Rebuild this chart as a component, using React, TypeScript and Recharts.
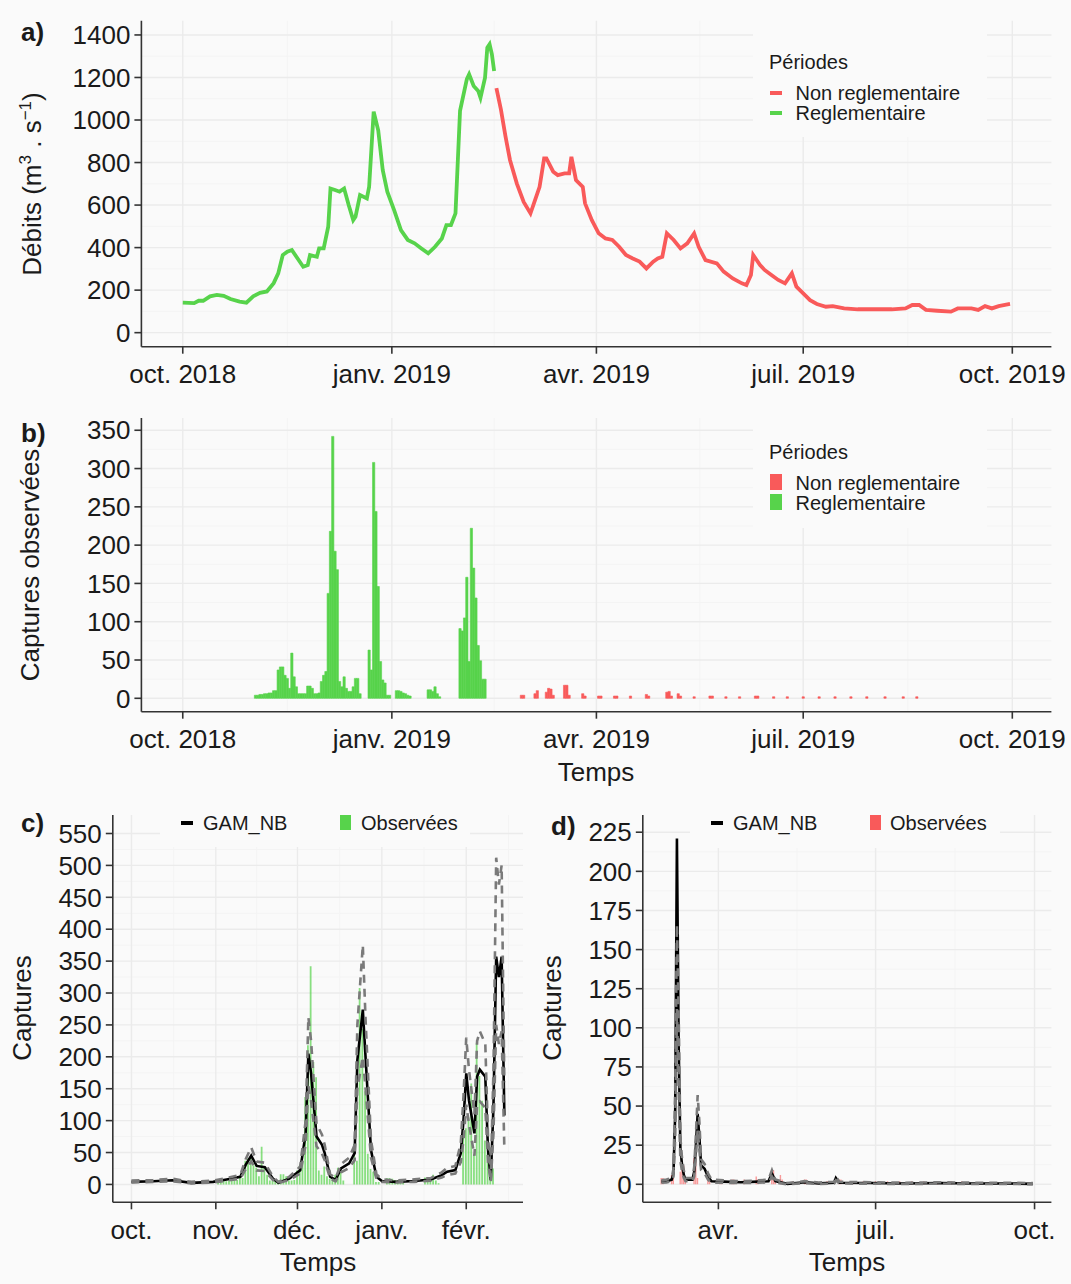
import React from 'react'
import { Bar, CartesianGrid, Cell, ComposedChart, Line, XAxis, YAxis } from 'recharts'

const GREEN = '#57d34b'
const RED = '#f95a5a'
const BG = '#fafafa'
const GRID = '#ebebeb'
const GRID_MINOR = '#f4f4f4'
const AXIS = '#333333'
const INK = '#1a1a1a'
const FONT = '"Liberation Sans", Arial, sans-serif'

// x = jours depuis le 1er oct. 2018
const yearTicks = [0, 92, 182, 273, 365]
const yearLabels = ['oct. 2018', 'janv. 2019', 'avr. 2019', 'juil. 2019', 'oct. 2019']
const winterTicks = [0, 31, 61, 92, 123]
const winterLabels = ['oct.', 'nov.', 'déc.', 'janv.', 'févr.']
const summerTicks = [182, 273, 365]
const summerLabels = ['avr.', 'juil.', 'oct.']

// débits journaliers (jour, m3/s)
const flowReg: [number, number][] = [
  [0, 141], [5, 139], [7, 150], [9, 150], [12, 171], [15, 178], [18, 173], [21, 158], [25, 146],
  [28, 141], [31, 171], [34, 187], [37, 194], [40, 233], [42, 279], [44, 365], [46, 381], [48, 389],
  [50, 357], [53, 310], [55, 318], [56, 365], [59, 357], [60, 396], [62, 396], [64, 498], [65, 678],
  [67, 671], [69, 663], [71, 678], [73, 600], [75, 529], [76, 545], [78, 647], [81, 631], [82, 686],
  [84, 1039], [86, 952], [88, 764], [90, 663], [93, 576], [96, 482], [99, 436], [102, 420], [105, 396],
  [108, 373], [111, 404], [114, 443], [116, 506], [118, 506], [120, 561], [122, 1043], [125, 1192],
  [126, 1215], [128, 1160], [130, 1137], [131, 1105], [133, 1199], [134, 1340], [135, 1356],
  [136, 1310], [137, 1231]
]
const flowNonReg: [number, number][] = [
  [138, 1150], [140, 1049], [142, 923], [144, 811], [147, 701], [150, 615], [153, 561], [155, 623],
  [157, 686], [159, 819], [160, 819], [163, 757], [165, 741], [168, 749], [170, 749], [171, 827],
  [173, 718], [176, 686], [177, 608], [180, 529], [183, 467], [186, 443], [189, 436], [192, 404],
  [195, 365], [198, 349], [201, 334], [204, 302], [207, 334], [209, 349], [211, 357], [213, 467],
  [216, 436], [219, 396], [222, 420], [225, 467], [227, 404], [230, 341], [235, 326], [238, 287],
  [242, 255], [246, 232], [248, 224], [250, 271], [251, 365], [254, 318], [256, 295], [259, 271],
  [262, 248], [265, 232], [268, 279], [270, 216], [273, 185], [276, 153], [279, 135], [283, 122],
  [286, 125], [291, 114], [297, 110], [304, 110], [312, 110], [318, 114], [321, 130], [324, 130],
  [327, 107], [332, 103], [338, 99], [341, 114], [347, 114], [350, 107], [353, 125], [356, 114],
  [359, 125], [364, 135]
]

// captures observées (jour, effectif)
const obsReg: [number, number][] = [
  [32, 4], [33, 4], [34, 5], [35, 5], [36, 6], [37, 6], [38, 7], [39, 7], [40, 10], [41, 10],
  [42, 37], [43, 41], [44, 41], [45, 30], [46, 26], [47, 13], [48, 59], [49, 28], [50, 15], [51, 6],
  [52, 6], [53, 6], [54, 6], [55, 16], [56, 16], [57, 13], [58, 6], [59, 6], [60, 7], [61, 22],
  [62, 30], [63, 35], [64, 137], [65, 218], [66, 342], [67, 192], [68, 168], [69, 22], [70, 15],
  [71, 28], [72, 13], [73, 9], [74, 9], [75, 15], [76, 26], [77, 26], [78, 6],
  [82, 63], [83, 37], [84, 308], [85, 244], [86, 146], [87, 48], [88, 24], [89, 20], [90, 4], [91, 4],
  [94, 10], [95, 10], [96, 9], [97, 7], [98, 6], [99, 4], [100, 3],
  [108, 11], [109, 11], [110, 9], [111, 15], [112, 6], [113, 2],
  [122, 91], [123, 88], [124, 105], [125, 158], [126, 48], [127, 222], [128, 170], [129, 131],
  [130, 69], [131, 49], [132, 25], [133, 25]
]
const obsNonReg: [number, number][] = [
  [149, 4], [150, 4], [155, 6], [156, 10], [160, 8], [161, 13], [162, 12], [163, 4], [168, 17],
  [169, 17], [170, 4], [176, 6], [177, 3], [183, 3], [184, 3], [190, 3], [191, 3], [197, 3], [204, 5],
  [205, 3], [213, 8], [214, 9], [215, 3], [218, 6], [219, 3], [225, 2], [232, 3], [233, 3], [239, 2],
  [245, 2], [252, 3], [253, 3], [260, 2], [266, 2], [273, 2], [280, 2], [287, 2], [294, 2], [301, 2],
  [309, 2], [317, 2], [323, 2]
]

// GAM_NB : (jour, prédiction, borne basse, borne haute)
const gamReg: [number, number, number, number][] = [
  [0, 4, 3, 6], [8, 5, 4, 7], [15, 6.6, 5, 9], [22, 2.5, 1.5, 4], [30, 4, 3, 6], [35, 7.8, 6, 10],
  [40, 12, 9, 15], [42, 31, 24, 40], [44, 45, 36, 58], [46, 29, 22, 36], [49, 27, 21, 34],
  [52, 9, 7, 12], [54, 2.6, 2, 4], [58, 9, 7, 12], [62, 22, 17, 28], [64, 80, 62, 100],
  [65, 205, 155, 262], [66, 174, 130, 225], [68, 75, 60, 95], [70, 62, 48, 78], [71, 49, 38, 62],
  [73, 12, 9, 16], [75, 7, 5, 10], [77, 25, 19, 32], [80, 33, 26, 42], [82, 49, 38, 62],
  [83, 195, 150, 250], [85, 274, 200, 375], [86, 200, 150, 260], [88, 54, 42, 70], [90, 12, 9, 16],
  [92, 5.5, 4, 8], [97, 4, 3, 6], [104, 5.5, 4, 8], [110, 7.8, 6, 10], [114, 14.6, 11, 19],
  [116, 20, 15, 26], [119, 22.5, 17, 29], [121, 49, 35, 65], [122, 101, 70, 140], [123, 174, 125, 230],
  [124, 132, 95, 180], [126, 80, 45, 110], [127, 169, 125, 225], [128, 180, 130, 240],
  [130, 169, 120, 220], [131, 54, 35, 75], [132, 7, 4, 12], [133, 122, 80, 180], [134, 357, 250, 512],
  [135, 325, 220, 470], [136, 357, 240, 500], [137, 108, 56, 160]
]
const gamNonReg: [number, number, number, number][] = [
  [149, 1.7, 1, 2.5], [152, 2, 1.2, 3], [155, 3, 2, 4], [156, 7, 5, 10], [157, 45, 30, 60],
  [158, 221, 112, 166], [159, 90, 60, 110], [160, 23, 15, 30], [161, 12, 8, 16], [162, 6, 4, 9],
  [163, 3, 2, 4], [167, 3, 2, 4], [168, 8, 5, 11], [169, 25, 18, 32], [170, 45, 35, 57],
  [171, 30, 22, 40], [172, 12, 9, 16], [174, 10, 7, 13], [176, 5, 3, 7], [178, 2, 1, 3],
  [185, 1.7, 1, 2.5], [195, 1.3, 0.8, 2], [205, 1.7, 1, 2.5], [211, 2, 1.2, 3], [213, 7, 5, 9],
  [215, 2, 1.2, 3], [222, 0.3, 0, 0.8], [232, 1.3, 0.8, 2], [240, 0.6, 0.2, 1.2], [249, 1, 0.5, 1.6],
  [250, 4, 2.5, 5], [252, 1, 0.5, 1.6], [270, 0.8, 0.4, 1.3], [290, 0.5, 0.2, 1], [310, 0.8, 0.4, 1.3],
  [330, 0.5, 0.2, 1], [350, 0.5, 0.2, 1], [364, 0.3, 0.1, 0.8]
]

const flowTicks = [0, 200, 400, 600, 800, 1000, 1200, 1400]
const capTicksB = [0, 50, 100, 150, 200, 250, 300, 350]
const capTicksC = [0, 50, 100, 150, 200, 250, 300, 350, 400, 450, 500, 550]
const capTicksD = [0, 25, 50, 75, 100, 125, 150, 175, 200, 225]

const mids = (t: number[]) => t.slice(1).map((v, i) => (v + t[i]) / 2)

const tickStyle = { fill: INK, fontSize: 26, fontFamily: FONT }
const axisLine = { stroke: AXIS, strokeWidth: 1.6 }
const labelOf = (ticks: number[], labels: string[]) => (v: number) => labels[ticks.indexOf(v)] ?? ''

const regLine = flowReg.map(([d, v]) => ({ d, v }))
const nonRegLine = flowNonReg.map(([d, v]) => ({ d, v }))
const obsAll = [
  ...obsReg.map(([d, n]) => ({ d, n, reg: true })),
  ...obsNonReg.map(([d, n]) => ({ d, n, reg: false }))
]
const obsRegRows = obsReg.map(([d, n]) => ({ d, n }))
const obsNonRegRows = obsNonReg.map(([d, n]) => ({ d, n }))
const gamRegRows = gamReg.map(([d, fit, lo, hi]) => ({ d, fit, lo, hi }))
const gamNonRegRows = gamNonReg.map(([d, fit, lo, hi]) => ({ d, fit, lo, hi }))

function Txt({ x, y, size = 20, bold, children, center }: any) {
  return (
    <div
      style={{
        position: 'absolute', left: x, top: y, fontSize: size, fontFamily: FONT, color: INK,
        fontWeight: bold ? 700 : 400, whiteSpace: 'nowrap', lineHeight: 1,
        transform: center ? 'translate(-50%, -50%)' : undefined
      }}
    >
      {children}
    </div>
  )
}

function VTitle({ x, y, children }: any) {
  return (
    <div
      style={{
        position: 'absolute', left: x, top: y, fontSize: 26, fontFamily: FONT, color: INK,
        whiteSpace: 'nowrap', lineHeight: 1, transform: 'translate(-50%, -50%) rotate(-90deg)'
      }}
    >
      {children}
    </div>
  )
}

function Box({ x, y, w, h, c = BG }: any) {
  return <div style={{ position: 'absolute', left: x, top: y, width: w, height: h, background: c }} />
}

function Grids({ xt, yt, xm, ym }: { xt: number[]; yt: number[]; xm: number[]; ym: number[] }) {
  return [
    <CartesianGrid key="mi" stroke={GRID_MINOR} strokeWidth={1} horizontalValues={ym} verticalValues={xm} />,
    <CartesianGrid key="ma" stroke={GRID} strokeWidth={1.4} horizontalValues={yt} verticalValues={xt} />
  ]
}

function xAxisProps(domain: number[], ticks: number[], labels: string[]) {
  return {
    type: 'number' as const, dataKey: 'd', domain, ticks, allowDataOverflow: true, interval: 0,
    tickFormatter: labelOf(ticks, labels), height: 50, tick: tickStyle,
    axisLine, tickLine: axisLine, tickSize: 7, tickMargin: 11
  }
}

function yAxisProps(domain: number[], ticks: number[], width: number) {
  return {
    type: 'number' as const, domain, ticks, allowDataOverflow: true, interval: 0, width,
    tick: tickStyle, axisLine, tickLine: axisLine, tickSize: 7, tickMargin: 4
  }
}

export default function App() {
  const pos = (left: number, top: number): React.CSSProperties => ({ position: 'absolute', left, top })
  return (
    <div style={{ position: 'absolute', left: 0, top: 0, width: 1071, height: 1284, background: BG, overflow: 'hidden' }}>
      {/* a) débits */}
      <div style={pos(0, 0)}>
        <ComposedChart width={1071} height={400} margin={{ top: 20.7, right: 19.6, bottom: 3.3, left: 0 }}>
          {Grids({ xt: yearTicks, yt: flowTicks, xm: mids(yearTicks), ym: mids(flowTicks) })}
          <XAxis {...xAxisProps([-18.2, 382.2], yearTicks, yearLabels)} />
          <YAxis {...yAxisProps([-66, 1467], flowTicks, 141.4)} />
          <Line data={regLine} dataKey="v" stroke={GREEN} strokeWidth={3.8} dot={false} isAnimationActive={false} />
          <Line data={nonRegLine} dataKey="v" stroke={RED} strokeWidth={3.8} dot={false} isAnimationActive={false} />
        </ComposedChart>
      </div>

      {/* b) captures observées : barres journalières jointives */}
      <div style={pos(0, 400)}>
        <ComposedChart width={1071} height={370} data={obsAll} margin={{ top: 18, right: 19.6, bottom: 8.3, left: 0 }}>
          {Grids({ xt: yearTicks, yt: capTicksB, xm: mids(yearTicks), ym: mids(capTicksB) })}
          <XAxis {...xAxisProps([-18.2, 382.2], yearTicks, yearLabels)} />
          <YAxis {...yAxisProps([-17.5, 366], capTicksB, 141.4)} />
          <Bar dataKey="n" barSize={2.26} isAnimationActive={false}>
            {obsAll.map((o, i) => (
              <Cell key={i} fill={o.reg ? GREEN : RED} stroke={o.reg ? GREEN : RED} strokeWidth={0.6} />
            ))}
          </Bar>
        </ComposedChart>
      </div>

      {/* c) période réglementaire */}
      <div style={pos(0, 800)}>
        <ComposedChart width={540} height={460} data={obsRegRows} margin={{ top: 15, right: 17, bottom: 7.7, left: 0 }}>
          {Grids({ xt: winterTicks, yt: capTicksC, xm: [...mids(winterTicks), 138.5], ym: mids(capTicksC) })}
          <XAxis {...xAxisProps([-6.85, 143.85], winterTicks, winterLabels)} />
          <YAxis {...yAxisProps([-28, 579], capTicksC, 112.8)} />
          <Bar dataKey="n" barSize={1.8} fill={GREEN} fillOpacity={0.7} isAnimationActive={false} />
          <Line data={gamRegRows} dataKey="fit" stroke="#000" strokeWidth={2.6} dot={false} isAnimationActive={false} />
          <Line data={gamRegRows} dataKey="hi" stroke="#7a7a7a" strokeWidth={2.6} strokeDasharray="8 6" dot={false} isAnimationActive={false} />
          <Line data={gamRegRows} dataKey="lo" stroke="#7a7a7a" strokeWidth={2.6} strokeDasharray="8 6" dot={false} isAnimationActive={false} />
        </ComposedChart>
      </div>

      {/* d) période non réglementaire */}
      <div style={pos(530, 800)}>
        <ComposedChart width={541} height={460} data={obsNonRegRows} margin={{ top: 15, right: 19.6, bottom: 7.7, left: 0 }}>
          {Grids({ xt: summerTicks, yt: capTicksD, xm: mids(summerTicks), ym: mids(capTicksD) })}
          <XAxis {...xAxisProps([138.25, 374.75], summerTicks, summerLabels)} />
          <YAxis {...yAxisProps([-11.5, 236], capTicksD, 112.8)} />
          <Bar dataKey="n" barSize={1.4} fill={RED} fillOpacity={0.6} isAnimationActive={false} />
          <Line data={gamNonRegRows} dataKey="fit" stroke="#000" strokeWidth={2.6} dot={false} isAnimationActive={false} />
          <Line data={gamNonRegRows} dataKey="hi" stroke="#7a7a7a" strokeWidth={2.6} strokeDasharray="8 6" dot={false} isAnimationActive={false} />
          <Line data={gamNonRegRows} dataKey="lo" stroke="#7a7a7a" strokeWidth={2.6} strokeDasharray="8 6" dot={false} isAnimationActive={false} />
        </ComposedChart>
      </div>

      {/* légendes */}
      <Box x={753} y={20} w={234} h={117} />
      <Txt x={769} y={52}>Périodes</Txt>
      <Box x={770} y={91} w={12} h={4} c={RED} />
      <Txt x={795.5} y={83}>Non reglementaire</Txt>
      <Box x={770} y={111} w={12} h={4} c={GREEN} />
      <Txt x={795.5} y={103}>Reglementaire</Txt>

      <Box x={753} y={418} w={234} h={110} />
      <Txt x={769} y={442}>Périodes</Txt>
      <Box x={770} y={474} w={12} h={16} c={RED} />
      <Txt x={795.5} y={473}>Non reglementaire</Txt>
      <Box x={770} y={494} w={12} h={16} c={GREEN} />
      <Txt x={795.5} y={493}>Reglementaire</Txt>

      <Box x={160} y={805} w={310} h={42} />
      <Box x={181} y={821} w={12} h={3.5} c="#000" />
      <Txt x={203} y={813}>GAM_NB</Txt>
      <Box x={340} y={815} w={11} h={15} c={GREEN} />
      <Txt x={361} y={813}>Observées</Txt>

      <Box x={690} y={805} w={310} h={43} />
      <Box x={711} y={821} w={12} h={3.5} c="#000" />
      <Txt x={733} y={813}>GAM_NB</Txt>
      <Box x={870} y={815} w={11} h={15} c={RED} />
      <Txt x={890} y={813}>Observées</Txt>

      {/* titres */}
      <Txt x={21} y={19} size={26} bold>a)</Txt>
      <Txt x={21} y={420} size={26} bold>b)</Txt>
      <Txt x={21} y={810} size={26} bold>c)</Txt>
      <Txt x={551} y={813} size={26} bold>d)</Txt>

      <VTitle x={31} y={184}>Débits (m<sup style={{ fontSize: 17 }}>3</sup> . s<sup style={{ fontSize: 17 }}>−1</sup>)</VTitle>
      <VTitle x={30} y={565}>Captures observées</VTitle>
      <VTitle x={22} y={1008}>Captures</VTitle>
      <VTitle x={552} y={1008}>Captures</VTitle>

      <Txt x={596} y={772} size={26} center>Temps</Txt>
      <Txt x={318} y={1262} size={26} center>Temps</Txt>
      <Txt x={847} y={1262} size={26} center>Temps</Txt>
    </div>
  )
}
